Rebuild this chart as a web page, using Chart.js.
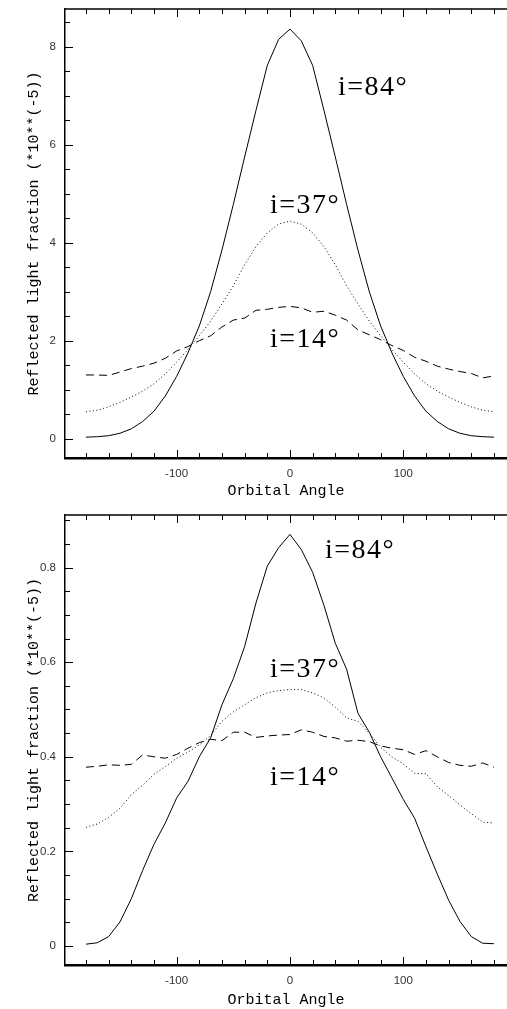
<!DOCTYPE html>
<html>
<head>
<meta charset="utf-8">
<script src="https://cdn.jsdelivr.net/npm/chart.js@4.4.1/dist/chart.umd.min.js"></script>
<style>
  html, body { margin: 0; padding: 0; background: #fff; overflow: hidden; }
  .box { position: relative; width: 507px; }
  #box1 { height: 500px; }
  #box2 { height: 509px; }
</style>
</head>
<body>
<div class="box" id="box1"><canvas id="chart1"></canvas></div>
<div class="box" id="box2"><canvas id="chart2"></canvas></div>
<script>
// orbital angle, 10 degree steps
const angles = [-180,-170,-160,-150,-140,-130,-120,-110,-100,-90,-80,-70,-60,-50,-40,-30,-20,-10,0,
  10,20,30,40,50,60,70,80,90,100,110,120,130,140,150,160,170,180];

// upper panel (units of 1e-5)
const upper84 = [0.03,0.04,0.06,0.11,0.2,0.35,0.56,0.87,1.27,1.75,2.3,3.0,3.85,4.78,5.75,6.7,7.62,8.15,8.36,
  8.12,7.62,6.7,5.75,4.78,3.85,3.0,2.3,1.75,1.27,0.87,0.56,0.35,0.2,0.11,0.06,0.04,0.03];
const upper37 = [0.55,0.58,0.65,0.74,0.85,0.97,1.12,1.32,1.56,1.82,2.1,2.4,2.75,3.12,3.55,3.92,4.2,4.38,4.44,
  4.38,4.2,3.92,3.55,3.12,2.75,2.4,2.1,1.82,1.56,1.32,1.12,0.97,0.85,0.74,0.65,0.58,0.55];
const upper14 = [1.30,1.30,1.29,1.36,1.43,1.48,1.54,1.64,1.79,1.88,2.0,2.1,2.28,2.42,2.46,2.62,2.64,2.68,2.70,
  2.67,2.58,2.60,2.52,2.42,2.22,2.12,2.02,1.90,1.80,1.66,1.58,1.48,1.42,1.37,1.33,1.24,1.28];

// lower panel
const lower84 = [0.004,0.007,0.020,0.051,0.10,0.16,0.215,0.26,0.313,0.348,0.40,0.44,0.51,0.565,0.633,0.725,0.803,0.842,0.870,
  0.838,0.79,0.72,0.64,0.585,0.492,0.452,0.40,0.355,0.31,0.27,0.21,0.152,0.097,0.052,0.020,0.006,0.005];
const lower37 = [0.251,0.258,0.272,0.291,0.32,0.34,0.363,0.379,0.397,0.41,0.425,0.445,0.475,0.495,0.51,0.525,0.535,0.54,0.542,
  0.542,0.535,0.524,0.505,0.482,0.475,0.45,0.42,0.40,0.385,0.365,0.364,0.337,0.318,0.298,0.28,0.262,0.26];
const lower14 = [0.378,0.38,0.383,0.382,0.384,0.404,0.400,0.397,0.405,0.418,0.43,0.437,0.434,0.452,0.452,0.441,0.444,0.446,0.447,
  0.457,0.452,0.443,0.44,0.433,0.435,0.432,0.423,0.418,0.415,0.405,0.413,0.40,0.388,0.382,0.38,0.387,0.378];

// axis ticks
const xMajor = [-100, 0, 100];
const xMinor = [-180,-160,-140,-120,-80,-60,-40,-20,20,40,60,80,120,140,160,180];
const upperMajor = [0, 2, 4, 6, 8];
const upperMinor = [0.5,1,1.5,2.5,3,3.5,4.5,5,5.5,6.5,7,7.5,8.5];
const lowerMajor = [0, 0.2, 0.4, 0.6, 0.8];
const lowerMinor = [0.05,0.1,0.15,0.25,0.3,0.35,0.45,0.5,0.55,0.65,0.7,0.75,0.85,0.9];

const inclLabels = ["i=84°", "i=37°", "i=14°"];

Chart.defaults.font.family = "'Liberation Sans', Arial, sans-serif";
Chart.defaults.color = "#222";

// inward tick marks, top frame line and the inclination labels
const frame = {
  id: "frame",
  afterDraw(chart, args, opts) {
    const ctx = chart.ctx;
    const a = chart.chartArea;
    const xs = chart.scales.x, ys = chart.scales.y;
    ctx.save();
    ctx.strokeStyle = "#000";
    ctx.lineWidth = 1.5;
    ctx.beginPath();
    ctx.moveTo(a.left, a.top);
    ctx.lineTo(a.right, a.top);
    ctx.stroke();
    ctx.lineWidth = 1;
    ctx.beginPath();
    const xt = (v, len) => {
      const px = Math.round(xs.getPixelForValue(v)) + 0.5;
      ctx.moveTo(px, a.bottom); ctx.lineTo(px, a.bottom - len);
      ctx.moveTo(px, a.top); ctx.lineTo(px, a.top + len);
    };
    const yt = (v, len) => {
      const py = Math.round(ys.getPixelForValue(v)) + 0.5;
      ctx.moveTo(a.left, py); ctx.lineTo(a.left + len, py);
    };
    xMajor.forEach(v => xt(v, 8));
    xMinor.forEach(v => xt(v, 5));
    opts.yMajor.forEach(v => yt(v, 8));
    opts.yMinor.forEach(v => yt(v, 5));
    ctx.stroke();

    ctx.fillStyle = "#000";
    ctx.font = "28px 'Liberation Serif', 'DejaVu Serif', serif";
    ctx.letterSpacing = "1.5px";
    ctx.textBaseline = "alphabetic";
    ctx.textAlign = "left";
    opts.notes.forEach(n => {
      ctx.fillText(n.text, xs.getPixelForValue(n.x), ys.getPixelForValue(n.y));
    });
    ctx.restore();
  }
};

function makeChart(id, s84, s37, s14, yMin, yMax, yMajor, yMinor, padTop, xAxisH, notes) {
  const line = (data, dash) => ({
    data: data,
    borderColor: "#000",
    borderWidth: 1,
    borderDash: dash,
    pointRadius: 0,
    tension: 0,
    fill: false
  });
  return new Chart(document.getElementById(id), {
    type: "line",
    data: {
      labels: angles,
      datasets: [line(s84, []), line(s37, [1, 2.5]), line(s14, [8, 5])]
    },
    options: {
      responsive: true,
      maintainAspectRatio: false,
      animation: false,
      layout: { padding: { top: padTop, left: 0, right: 0, bottom: 0 } },
      plugins: {
        legend: { display: false },
        tooltip: { enabled: false },
        frame: { yMajor: yMajor, yMinor: yMinor, notes: notes }
      },
      scales: {
        x: {
          type: "linear",
          min: -198.5,
          max: 191.5,
          afterBuildTicks: s => { s.ticks = xMajor.map(v => ({ value: v })); },
          afterFit: s => { s.height = xAxisH; s.paddingLeft = 0; s.paddingRight = 0; },
          grid: { display: false, drawTicks: false },
          border: { display: true, color: "#000", width: 2.5 },
          ticks: { padding: 9, font: { size: 11.5 }, color: "#333", maxRotation: 0 },
          title: {
            display: true,
            text: "Orbital Angle",
            color: "#000",
            font: { family: "'Liberation Mono', 'DejaVu Sans Mono', monospace", size: 15 },
            padding: { top: 0, bottom: 0 }
          }
        },
        y: {
          min: yMin,
          max: yMax,
          afterBuildTicks: s => { s.ticks = yMajor.map(v => ({ value: v })); },
          afterFit: s => { s.width = 65; s.paddingTop = 0; s.paddingBottom = 0; },
          grid: { display: false, drawTicks: false },
          border: { display: true, color: "#000", width: 1.5 },
          ticks: { padding: 9, font: { size: 11.5 }, color: "#333" },
          title: {
            display: true,
            text: "Reflected light fraction (*10**(-5))",
            color: "#000",
            font: { family: "'Liberation Mono', 'DejaVu Sans Mono', monospace", size: 15 },
            padding: { top: 25, bottom: 0 }
          }
        }
      }
    },
    plugins: [frame]
  });
}

makeChart("chart1", upper84, upper37, upper14, -0.395, 8.77, upperMajor, upperMinor, 9, 42, [
  { text: inclLabels[0], x: 42.4, y: 7.01 },
  { text: inclLabels[1], x: -17.6, y: 4.6 },
  { text: inclLabels[2], x: -17.6, y: 1.87 }
]);

makeChart("chart2", lower84, lower37, lower14, -0.040, 0.911, lowerMajor, lowerMinor, 15, 44, [
  { text: inclLabels[0], x: 30.9, y: 0.820 },
  { text: inclLabels[1], x: -17.6, y: 0.569 },
  { text: inclLabels[2], x: -17.6, y: 0.340 }
]);
</script>
</body>
</html>
